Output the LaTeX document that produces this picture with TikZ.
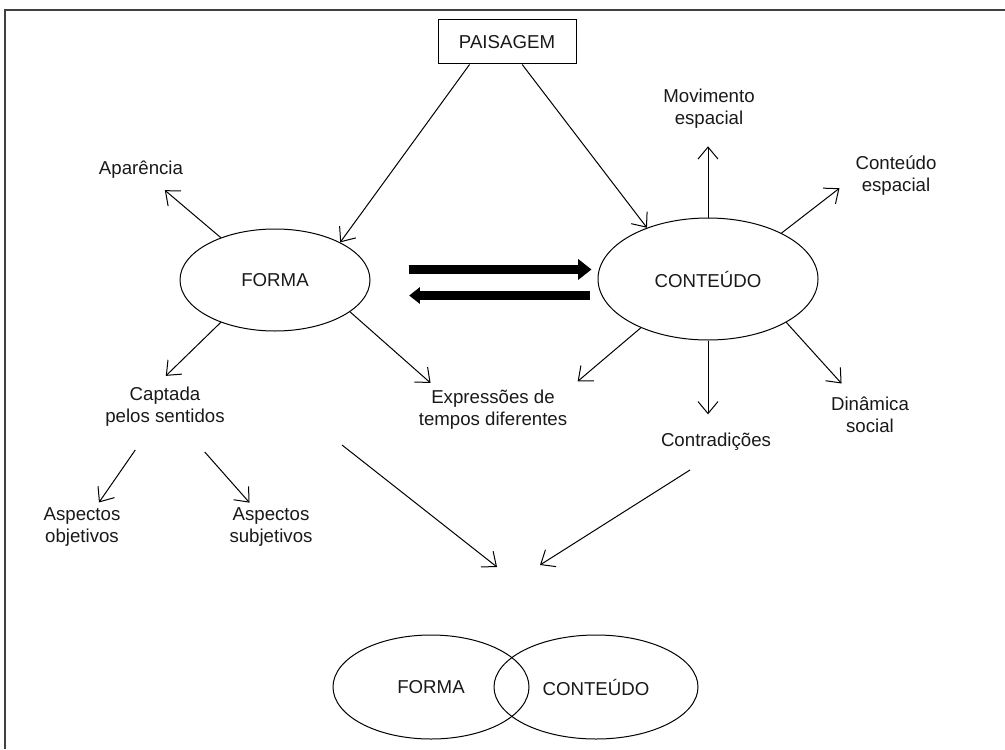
\documentclass[tikz,border=0pt]{standalone}
\usepackage{fontspec}
\setmainfont{Liberation Sans}
\usetikzlibrary{shapes.geometric,arrows.meta}

\tikzset{
  txt/.style={font=\fontsize{14}{16.5}\selectfont, align=center, inner sep=0pt, text=black!90},
  oval/.style={ellipse, draw, line width=0.75pt, txt},
  arr/.style={line width=0.75pt, -{Straight Barb[length=9pt,width=15pt]}},
  fat/.style={line width=6.75pt, -{Triangle[length=10pt,width=15pt]}},
}

\begin{document}
\begin{tikzpicture}[x=0.75pt,y=-0.75pt]
  \useasboundingbox (0,0) rectangle (1005,749);
  % frame
  \draw[line width=1.2pt, black!75] (5,749) -- (5,10) -- (1005,10);

  % main shapes
  \node[draw, line width=0.75pt, txt, minimum width=103.5pt, minimum height=33pt] (paisagem) at (507,42) {PAISAGEM};
  \node[oval, minimum width=142.5pt, minimum height=76.5pt] (forma) at (275,280) {FORMA};
  \node[oval, minimum width=165pt, minimum height=91.5pt] (conteudo) at (708,279) {CONTEÚDO};

  % labels
  \node[txt] (aparencia) at (141,170) {Aparência};
  \node[txt] (movimento) at (709,109) {Movimento\\espacial};
  \node[txt] (conteudoesp) at (896,176) {Conteúdo\\espacial};
  \node[txt] (captada) at (165,407) {Captada\\pelos sentidos};
  \node[txt] (expressoes) at (493,410) {Expressões de\\tempos diferentes};
  \node[txt] (contradicoes) at (716,442) {Contradições};
  \node[txt] (dinamica) at (870,415) {Dinâmica\\social};
  \node[txt] (objetivos) at (82,527) {Aspectos\\objetivos};
  \node[txt] (subjetivos) at (271,527) {Aspectos\\subjetivos};

  % bottom
  \node[oval, minimum width=147pt, minimum height=78pt] (vennF) at (431,687) {FORMA};
  \node[oval, minimum width=153pt, minimum height=78pt] (vennC) at (596,687) {CONTEÚDO};
  \coordinate (formaDown) at (342,445);
  \coordinate (vennInL) at (497,567);
  \coordinate (conteudoDown) at (690,470);
  \coordinate (vennInR) at (540,565);

  % connectors
  \draw[arr] (paisagem.211) -- (forma.30);
  \draw[arr] (paisagem.304) -- (conteudo.140);
  \draw[fat, shorten <=28.5pt, shorten >=4.5pt] ([yshift=7.9pt]forma.east) -- ([yshift=7.9pt]forma.east -| conteudo.west);
  \draw[fat, -{Triangle[length=8pt,width=12pt]}, shorten <=6pt, shorten >=29pt] ([yshift=-12.4pt]conteudo.west) -- ([yshift=-12.4pt]conteudo.west -| forma.east);

  \draw[arr, shorten >=13pt] (forma.142) -- (aparencia);
  \draw[arr, shorten >=12pt] (forma.218) -- ([xshift=-8pt]captada.north);
  \draw[arr, shorten >=8pt] (forma.337) -- ([xshift=15pt]expressoes.north west);
  \draw[arr, shorten <=21pt, shorten >=4.5pt] (captada) -- (objetivos);
  \draw[arr, shorten <=25pt, shorten >=4.7pt] (captada) -- (subjetivos);

  \draw[arr, shorten >=13pt] (conteudo.north) -- (conteudo.north |- movimento.south);
  \draw[arr, shorten >=15pt] (conteudo.32) -- (conteudoesp.west);
  \draw[arr, shorten >=13.5pt] (conteudo.331) -- (dinamica);
  \draw[arr, shorten >=14pt] (conteudo.south) -- (conteudo.south |- contradicoes.north);
  \draw[arr, shorten >=10pt] (conteudo.216) -- (expressoes.north east);

  \draw[arr] (formaDown) -- (vennInL);
  \draw[arr] (conteudoDown) -- (vennInR);
\end{tikzpicture}
\end{document}
